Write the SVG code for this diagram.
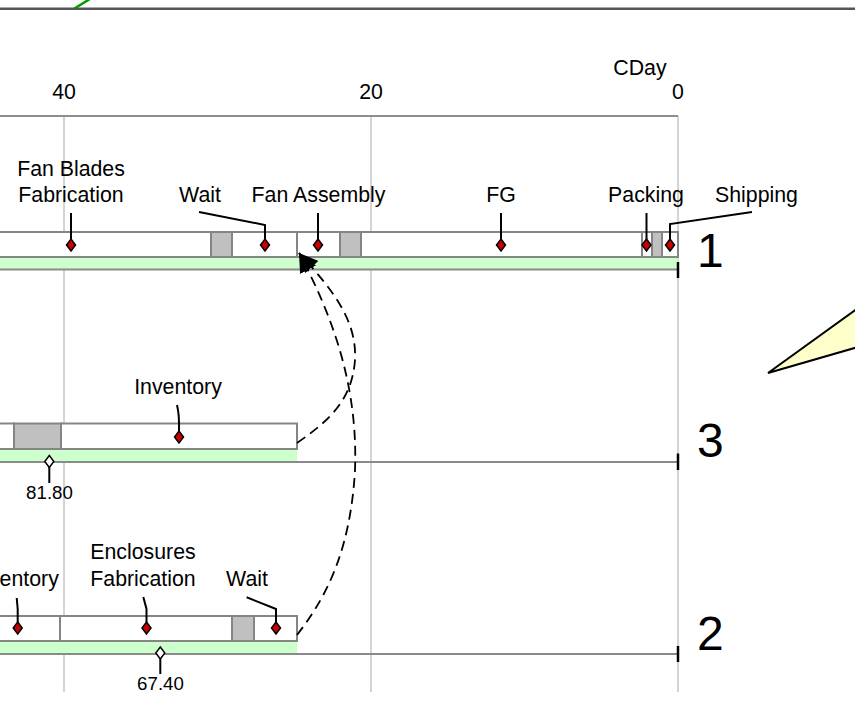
<svg xmlns="http://www.w3.org/2000/svg" xmlns:xlink="http://www.w3.org/1999/xlink" width="855" height="703" viewBox="0 0 855 703">
<style>
text{font-family:"Liberation Sans",Arial,sans-serif;fill:#000}
.lbl{font-size:21.3px;text-anchor:middle}
.val{font-size:18.7px;text-anchor:middle}
.row{font-size:48px}
.grid{stroke:#d4d4d4;stroke-width:2;fill:none}
.box{fill:#fff;stroke:#858585;stroke-width:2}
.gbox{fill:#c0c0c0;stroke:#858585;stroke-width:2}
.green{fill:#ccffcc;stroke:none}
.base{stroke:#8a8a8a;stroke-width:2;fill:none}
.tick{stroke:#000;stroke-width:2.5}
.lead{stroke:#000;stroke-width:2;fill:none}
.red{fill:#cc0000;stroke:#000;stroke-width:1.5}
.hol{fill:#fff;stroke:#000;stroke-width:1.5}
.dash{stroke:#000;stroke-width:1.8;fill:none;stroke-dasharray:10,6;marker-end:url(#ah)}
</style>
<defs>
<path id="dm" d="M0,-6 L4.5,0 L0,6 L-4.5,0 Z"/>
<marker id="ah" viewBox="0 0 19 18" refX="19" refY="9" markerWidth="19" markerHeight="18" markerUnits="userSpaceOnUse" orient="auto">
<path d="M0,0 L19,9 L0,18 Z" fill="#000" stroke="none" stroke-dasharray="none"/>
</marker>
</defs>
<rect width="855" height="703" fill="#fff"/>
<g id="frame">
<line x1="0" y1="8.7" x2="855" y2="8.7" stroke="#555" stroke-width="2.5"/>
<line x1="74" y1="8.7" x2="90" y2="-1" stroke="#009900" stroke-width="2.5"/>
<line class="grid" x1="64" y1="116" x2="64" y2="692"/>
<line class="grid" x1="371" y1="116" x2="371" y2="692"/>
<line class="grid" x1="678" y1="116" x2="678" y2="692"/>
<line x1="0" y1="116" x2="678" y2="116" stroke="#8e8e8e" stroke-width="2"/>
</g>
<g id="axis">
<text class="lbl" x="640" y="75">CDay</text>
<text class="lbl" x="64" y="99">40</text>
<text class="lbl" x="371" y="99">20</text>
<text class="lbl" x="678" y="99">0</text>
</g>
<g id="row1">
<rect class="green" x="-2" y="257" width="680" height="12.5"/>
<line class="base" x1="0" y1="269.5" x2="678" y2="269.5"/>
<rect class="box" x="-5" y="232" width="216" height="25"/>
<rect class="gbox" x="211" y="232" width="21" height="25"/>
<rect class="box" x="232" y="232" width="65" height="25"/>
<rect class="box" x="297" y="232" width="43" height="25"/>
<rect class="gbox" x="340" y="232" width="21" height="25"/>
<rect class="box" x="361" y="232" width="281" height="25"/>
<rect class="box" x="642" y="232" width="10" height="25"/>
<rect class="gbox" x="652" y="232" width="10" height="25"/>
<rect class="box" x="662" y="232" width="16" height="25"/>
<line class="tick" x1="678" y1="262" x2="678" y2="278"/>
<text class="row" x="697" y="267">1</text>
</g>
<g id="fan-blades">
<text class="lbl" x="71" y="176">Fan Blades</text>
<text class="lbl" x="71" y="202">Fabrication</text>
<line class="lead" x1="71" y1="213" x2="71" y2="240"/>
<use xlink:href="#dm" class="red" x="71" y="245"/>
</g>
<g id="wait1">
<text class="lbl" x="200" y="202">Wait</text>
<polyline class="lead" points="199,212 265,225 265,240"/>
<use xlink:href="#dm" class="red" x="265" y="245"/>
</g>
<g id="fan-assembly">
<text class="lbl" x="318.5" y="202">Fan Assembly</text>
<line class="lead" x1="318" y1="213" x2="318" y2="240"/>
<use xlink:href="#dm" class="red" x="318" y="245"/>
</g>
<g id="fg">
<text class="lbl" x="501" y="202">FG</text>
<line class="lead" x1="501" y1="213" x2="501" y2="240"/>
<use xlink:href="#dm" class="red" x="501" y="245"/>
</g>
<g id="packing">
<text class="lbl" x="646" y="202">Packing</text>
<line class="lead" x1="646.5" y1="213" x2="646.5" y2="240"/>
<use xlink:href="#dm" class="red" x="646.5" y="245"/>
</g>
<g id="shipping">
<text class="lbl" x="756.5" y="202">Shipping</text>
<polyline class="lead" points="752,212 670,224 670,240"/>
<use xlink:href="#dm" class="red" x="670" y="245"/>
</g>
<g id="row3">
<rect class="green" x="-2" y="449" width="299" height="12.5"/>
<line class="base" x1="0" y1="462" x2="678" y2="462"/>
<rect class="box" x="-5" y="423.5" width="19" height="25.5"/>
<rect class="gbox" x="14" y="423.5" width="47" height="25.5"/>
<rect class="box" x="61" y="423.5" width="236" height="25.5"/>
<line class="tick" x1="678" y1="453.5" x2="678" y2="470"/>
<text class="row" x="697" y="456.5">3</text>
</g>
<g id="inventory3">
<text class="lbl" x="178" y="394">Inventory</text>
<path class="lead" d="M177,405 Q179.5,415 179,431"/>
<use xlink:href="#dm" class="red" x="179" y="437"/>
</g>
<g id="v81">
<line class="lead" x1="49.3" y1="467" x2="49.3" y2="483"/>
<use xlink:href="#dm" class="hol" x="49.3" y="461.5"/>
<text class="val" x="49.5" y="499">81.80</text>
</g>
<g id="row2">
<rect class="green" x="-2" y="641" width="299" height="13"/>
<line class="base" x1="0" y1="654" x2="678" y2="654"/>
<rect class="box" x="-5" y="616" width="65" height="25"/>
<rect class="box" x="60" y="616" width="172" height="25"/>
<rect class="gbox" x="232" y="616" width="22" height="25"/>
<rect class="box" x="254" y="616" width="43" height="25"/>
<line class="tick" x1="678" y1="646" x2="678" y2="662"/>
<text class="row" x="697" y="650">2</text>
</g>
<g id="inventory2">
<text class="lbl" x="15" y="586">Inventory</text>
<polyline class="lead" points="16.7,598 17.7,609 17.7,622"/>
<use xlink:href="#dm" class="red" x="17.7" y="628"/>
</g>
<g id="enclosures">
<text class="lbl" x="143" y="559">Enclosures</text>
<text class="lbl" x="143" y="586">Fabrication</text>
<polyline class="lead" points="143.3,597 146.5,609 146.5,622"/>
<use xlink:href="#dm" class="red" x="146.5" y="628"/>
</g>
<g id="wait2">
<text class="lbl" x="247" y="586">Wait</text>
<polyline class="lead" points="246.7,597.3 276,609 276,622"/>
<use xlink:href="#dm" class="red" x="276" y="628"/>
</g>
<g id="v67">
<line class="lead" x1="160.3" y1="659" x2="160.3" y2="674"/>
<use xlink:href="#dm" class="hol" x="160.3" y="653"/>
<text class="val" x="160.5" y="690">67.40</text>
</g>
<g id="callout">
<polygon points="768,373 858,308 858,347" fill="#ffffcc" stroke="#000" stroke-width="2" stroke-linejoin="miter"/>
</g>
<g id="connectors">
<path class="dash" d="M297,443 C330,420 352,400 355,360 C357,322 335,292 299,253"/>
<path class="dash" d="M297,635 C320,605 350,560 355,470 C358,390 335,320 299,253"/>
</g>
</svg>
